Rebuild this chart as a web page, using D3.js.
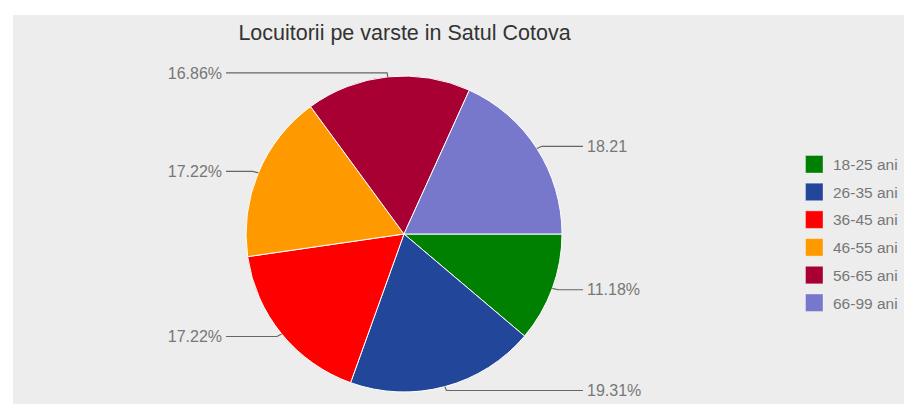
<!DOCTYPE html>
<html><head><meta charset="utf-8">
<script src="https://cdn.jsdelivr.net/npm/d3@7"></script>
<style>html,body{margin:0;padding:0;background:#fff;}svg{display:block;font-family:"Liberation Sans",Arial,sans-serif;}</style>
</head><body>
<svg id="chart" width="904" height="404"></svg>
<script>
const title = "Locuitorii pe varste in Satul Cotova";
const categories = ["18-25 ani","26-35 ani","36-45 ani","46-55 ani","56-65 ani","66-99 ani"];
const values = [11.18, 19.31, 17.22, 17.22, 16.86, 18.21];
const labels = ["11.18%","19.31%","17.22%","17.22%","16.86%","18.21"];
const colors = ["#008000","#22479a","#ff0000","#ff9900","#a80033","#7777cc"];

const svg = d3.select("#chart");
svg.append("rect").attr("x",13).attr("y",15).attr("width",891).attr("height",389).attr("fill","#ededed");

svg.append("text").attr("x",404.5).attr("y",40).attr("text-anchor","middle")
  .attr("font-size",21.5).attr("fill","#333").text(title);

const cx = 404, cy = 234, r = 158;
const g = svg.append("g").attr("transform",`translate(${cx},${cy})`);
const pie = d3.pie().sort(null).value(d=>d).startAngle(Math.PI/2).endAngle(Math.PI/2+2*Math.PI);
const arcs = pie(values);
const arc = d3.arc().innerRadius(0).outerRadius(r);
g.selectAll("path.slice").data(arcs).join("path").attr("class","slice")
  .attr("d",arc).attr("fill",(d,i)=>colors[i]).attr("stroke","#fff").attr("stroke-width",1);

// leader lines and labels
arcs.forEach((d,i)=>{
  const a = (d.startAngle+d.endAngle)/2;
  const sx = Math.sin(a), sy = -Math.cos(a);
  const ax = sx*r, ay = sy*r;
  const bx = ax + sx*6, by = ay + sy*4;
  const right = sx > 0;
  const ex = right ? 583-cx : 226-cx;
  g.append("path").attr("d",`M${ax},${ay}L${bx},${by}L${ex},${by}`)
    .attr("fill","none").attr("stroke","#666").attr("stroke-width",1.2);
  g.append("text").attr("x", right ? ex+4 : ex-4).attr("y", by).attr("dy","0.36em")
    .attr("text-anchor", right ? "start" : "end").attr("font-size",16).attr("fill","#777")
    .text(labels[i]);
});

// legend
const leg = svg.append("g").attr("transform","translate(805,155)");
const item = leg.selectAll("g").data(categories).join("g").attr("transform",(d,i)=>`translate(0,${i*27.7})`);
item.append("rect").attr("x",0.5).attr("y",0.5).attr("width",17.5).attr("height",17.5)
  .attr("fill",(d,i)=>colors[i]).attr("stroke","#fff").attr("stroke-opacity",0.35);
item.append("text").attr("x",28).attr("y",9.5).attr("dy","0.36em").attr("font-size",15.5).attr("fill","#777").text(d=>d);
</script>
</body></html>
